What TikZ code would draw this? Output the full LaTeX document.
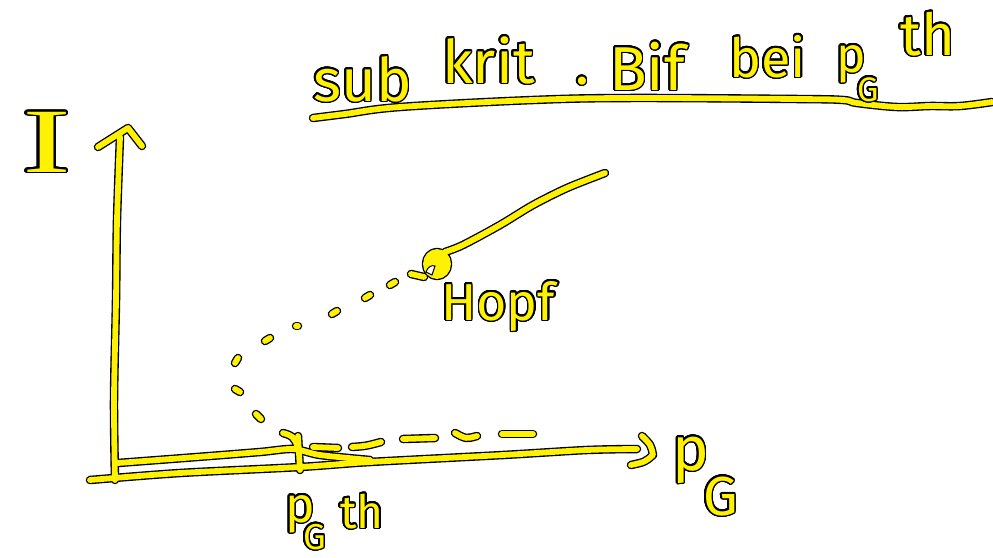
\documentclass[tikz,border=0pt]{standalone}
\usepackage{fontspec}
\setmainfont{Fira Sans}
\newfontfamily\serifI{Liberation Serif}
\usepackage{contour}
\contourlength{1.5pt}
\contournumber{24}
\newcommand\hw[2]{{\fontsize{#1}{#1}\selectfont\contour{black}{#2}}}
\newcommand\allstrokes{%
  % title underline
  \draw[ink] plot[smooth,tension=0.6] coordinates {(313,118) (345,114) (400,107) (533,100) (630,98) (797,99) (843,100) (857,103) (897,107) (930,106) (960,106) (992,102)};
  % y axis
  \draw[ink] plot[smooth] coordinates {(115,480) (114,400) (116,300) (117,220) (120,137)};
  \draw[ink] (98,147) -- (128,128) -- (142,146);
  % x axis (drawn twice)
  \draw[ink] plot[smooth] coordinates {(90,480) (180,473) (300,467) (370,462) (503,455) (587,450) (637,449)};
  \draw[ink] plot[smooth] coordinates {(118,463) (197,457) (260,452) (293,449) (320,455) (370,460)};
  \draw[ink] (642,436) .. controls (651,445) .. (653,455) .. controls (645,462) .. (631,465);
  % tick at p_G^th
  \draw[ink] (283,433) .. controls (293,436) .. (298,447);
  \draw[ink] (298,436) -- (300,470);
  % dashed branch
  \draw[ink] (313,447) -- (338,448);
  \draw[ink] (352,447) .. controls (366,446) .. (381,442);
  \draw[ink] (403,439) -- (435,438);
  \draw[ink] (455,433) .. controls (466,439) .. (477,436);
  \draw[ink] (502,434) -- (533,434);
  % dotted branch
  \draw[ink] (256,414) -- (261,419);
  \draw[ink] (235,389) -- (240,392);
  \draw[ink] (235,363) -- (238,358);
  \draw[ink] (265,341) -- (270,338);
  \draw[ink] (296,326) -- (298,326);
  \draw[ink] (332,314) -- (337,311);
  \draw[ink] (365,298) -- (370,295);
  \draw[ink] (390,285) -- (395,282);
  % Hopf point and branch
  \draw[ink] plot[smooth] coordinates {(445,252) (463,245) (500,225) (533,205) (567,188) (605,173)};
  \draw[ink, fill=inkc] (437,264) ellipse [x radius=11, y radius=12];
  \draw[ink] (411,274) -- (424,277);
}
\begin{document}
\begin{tikzpicture}[x=1pt,y=-1pt,
  txt/.style={text=yellow, inner sep=0pt, anchor=base west}]
\fill[white] (0,0) rectangle (993,557);
\useasboundingbox (0,0) rectangle (993,557);
\begin{scope}
  \colorlet{inkc}{black}
  \tikzset{ink/.style={draw=inkc, line width=8.5pt, line cap=round, line join=round}}
  \allstrokes
\end{scope}
\begin{scope}
  \colorlet{inkc}{yellow}
  \tikzset{ink/.style={draw=inkc, line width=5.8pt, line cap=round, line join=round}}
  \allstrokes
\end{scope}
% notch in the Hopf point
\draw[black, line width=1pt, fill=white] (426,272) .. controls (428,266) and (432,265) .. (435,266) -- (432,275) -- cycle;
% title
\node[txt] (sub) at (313,101) {\hw{60}{sub}};
\node[txt] (krit) at (442,83) {\hw{60}{krit}};
\node[txt] (dot) at (575,84) {\hw{58}{.}};
\node[txt] (bif) at (609,90) {\hw{62}{Bif}};
\node[txt] (bei) at (729,77) {\hw{54}{bei}};
\node[txt] (tp) at (836,72) {\hw{50}{p}};
\node[txt] (tG) at (857,101) {\hw{34}{G}};
\node[txt] (tth) at (900,55) {\hw{58}{th}};
% axis labels
\node[txt] (I) at (22,172) {\serifI\scalebox{1.6}[1]{\hw{92}{I}}};
\node[txt] (pG) at (672,470) {\hw{62}{p}};
\node[txt] (G) at (703,515) {\hw{55}{G}};
\node[txt] (pth) at (285,522) {\hw{50}{p}};
\node[txt] (Gth) at (303,549) {\hw{36}{G}};
\node[txt] (th) at (340,528) {\hw{46}{th}};
\node[txt] (hopf) at (441,320) {\hw{52}{Hopf}};
\end{tikzpicture}
\end{document}
